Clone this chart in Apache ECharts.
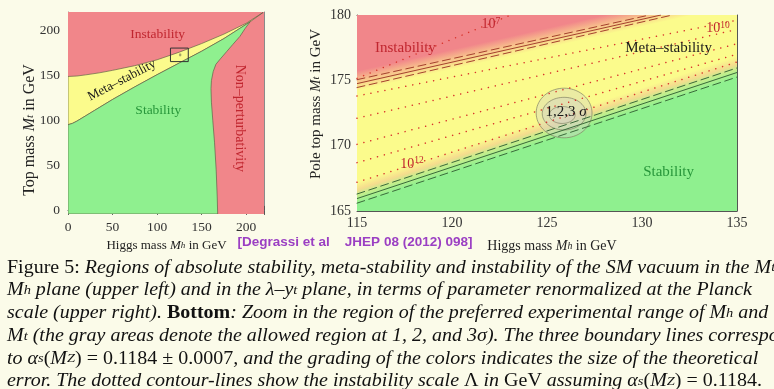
<!DOCTYPE html>
<html>
<head>
<meta charset="utf-8">
<script src="https://cdn.jsdelivr.net/npm/echarts@6/dist/echarts.min.js"></script>
<style>
  html, body { margin: 0; padding: 0; background: #fbfbe9; }
  #chart { width: 774px; height: 389px; }
</style>
</head>
<body>
<div id="chart"></div>
<script>
// ---------------- Left panel: full Mh–Mt plane (GeV) ----------------
const fullMhRange = [0, 220];
const fullMtRange = [-4, 220];
const fullTicks = [0, 50, 100, 150, 200];
const fullMinorTicks = [10, 20, 30, 40, 60, 70, 80, 90, 110, 120, 130, 140, 160, 170, 180, 190, 210];

// upper edge of the meta-stable wedge (instability boundary)
const metaUpper = [[0, 148.5], [10, 149], [20, 150.3], [35, 152.5], [50, 155.3], [75, 160.5],
  [100, 167], [125, 175.5], [150, 185], [175, 195.5], [200, 207.5], [219, 219.5]];
// lower edge of the meta-stable wedge (stability boundary)
const metaLower = [[0, 95], [5, 96.5], [10, 99], [20, 105], [30, 111], [50, 123], [75, 137],
  [100, 150.5], [125, 163.5], [150, 176.5], [175, 190.5], [204.5, 209.2], [219, 219.5]];
// perturbativity limit, from the tip of the stable region down to the axis
const nonPertEdge = [[204.5, 209.2], [199, 202], [193, 193], [185, 184], [178, 176], [171, 168],
  [166, 162], [163, 154], [161, 144], [160.5, 135], [161, 120], [162.5, 100], [164.5, 75],
  [166.3, 45], [167.5, 15], [168, -4]];

const fullLabelText = ['Instability', 'Meta–stability', 'Stability', 'Non–perturbativity'];
const fullLabelAt = [[100.6, 195], [60.5, 144.2], [101.3, 111], [193.2, 102]];

// ---------------- Right panel: zoom on the experimental region ----------------
const zoomMhRange = [115, 135];
const zoomMtRange = [165, 180];

// three boundary lines each: alpha_s upper / central / lower
const instabilityLines = [
  [[115, 175.05], [130.4, 180]],
  [[115, 174.75], [131.0, 180]],
  [[115, 174.45], [131.6, 180]]
];
const stabilityLines = [
  [[115, 166.3], [135, 175.95]],
  [[115, 165.95], [135, 175.6]],
  [[115, 165.6], [135, 175.25]]
];
// edges of the colour grading (theory error bands)
const instabilityBandEdge = [[115, 174.2], [132.7, 180]];
const instabilityBandWidth = 1.9;
const stabilityBandEdge = [[115, 167.2], [135, 176.85]];
const stabilityBandWidth = 1.65;

// dotted contours of the instability scale Lambda
const lambdaContours = [
  [[115, 175.15], [123.1, 180]],
  [[115, 173.8], [135, 179.6]],
  [[115, 172.1], [135, 178.9]],
  [[115, 170.1], [135, 177.8]],
  [[115, 168.7], [135, 177.0]],
  [[115, 167.2], [135, 176.4]]
];
const lambdaLabelExp = ['7', '10', '12'];
const lambdaLabelAt = [[122.05, 179.25], [134.0, 179.0], [117.9, 168.6]];

// 1, 2, 3 sigma regions in (Mh, Mt): centre and half-widths
const sigmaCentre = [[125.9, 172.5], [125.9, 172.45], [125.8, 172.35]];
const sigmaHalfWidth = [[1.47, 1.9], [1.15, 1.25], [0.68, 0.65]];

const zoomLabelText = ['Instability', 'Meta–stability', 'Stability', '1,2,3 σ'];
const zoomLabelAt = [[117.55, 177.44], [131.4, 177.45], [131.4, 167.95], [126.0, 172.56]];

// ---------------- Caption ----------------
const captionLines = [
  [['r', 'Figure 5: '], ['i', 'Regions of absolute stability, meta-stability and instability of the SM vacuum in the '], ['i', 'M'], ['s', 't'], ['r', '–']],
  [['i', 'M'], ['s', 'h'], ['i', ' plane (upper left) and in the λ'], ['r', '–'], ['i', 'y'], ['s', 't'], ['i', ' plane, in terms of parameter renormalized at the Planck']],
  [['i', 'scale (upper right). '], ['b', 'Bottom'], ['i', ': Zoom in the region of the preferred experimental range of '], ['i', 'M'], ['s', 'h'], ['i', ' and']],
  [['i', 'M'], ['s', 't'], ['i', ' (the gray areas denote the allowed region at 1, 2, and 3σ). The three boundary lines correspond']],
  [['i', 'to α'], ['s', 's'], ['r', '('], ['i', 'M'], ['s', 'Z'], ['r', ') = 0.1184 ± 0.0007'], ['i', ', and the grading of the colors indicates the size of the theoretical']],
  [['i', 'error. The dotted contour-lines show the instability scale '], ['r', 'Λ'], ['i', ' in '], ['r', 'GeV'], ['i', ' assuming α'], ['s', 's'], ['r', '('], ['i', 'M'], ['s', 'Z'], ['r', ') = 0.1184.']]
];
const citation = '[Degrassi et al    JHEP 08 (2012) 098]';

// ---------------- Styling ----------------
const serif = '"Liberation Serif", "Times New Roman", serif';
const sans = '"Liberation Sans", Arial, sans-serif';
const col = {
  page: '#fbfbe9',
  red: '#f1868a',
  yellow: '#fbfb8c',
  green: '#8ff08f',
  peach: '#f8c48c',
  edge: 'rgba(95,95,70,0.85)',
  frameL: '#8a8a8a',
  frameR: '#555555',
  tick: '#555555',
  tickLabel: '#333333',
  redText: '#c0262f',
  greenText: '#27963a',
  dark: '#1a1a1a',
  instLine: '#a4402e',
  stabLine: '#3a6a3a',
  lambda: '#d8342c',
  sigmaFill: 'rgba(212,212,196,0.42)',
  sigmaEdge: 'rgba(130,130,100,0.7)',
  cite: '#9b3fc3'
};

const chart = echarts.init(document.getElementById('chart'), null, { renderer: 'canvas', width: 774, height: 389 });

// ---- helpers ----
function polySeries(xi, yi, polys, base) {
  return {
    type: 'custom', xAxisIndex: xi, yAxisIndex: yi, silent: true, clip: true,
    data: polys.map(() => base.slice()),
    renderItem(params, api) {
      const p = polys[params.dataIndex];
      return {
        type: 'polygon',
        shape: { points: p.pts.map(q => api.coord(q)) },
        style: {
          fill: typeof p.fill === 'function' ? p.fill(api) : (p.fill || null),
          stroke: p.stroke || null,
          lineWidth: p.lw || 0
        }
      };
    }
  };
}

// gradient across a straight band edge; dir > 0 grades upward, dir < 0 downward
function bandGradient(api, edge, widthMt, dir, stops) {
  const p0 = api.coord(edge[0]), p1 = api.coord(edge[1]);
  const dx = p1[0] - p0[0], dy = p1[1] - p0[1], len = Math.hypot(dx, dy);
  let nx = dy / len, ny = -dx / len;
  if ((ny < 0) !== (dir > 0)) { nx = -nx; ny = -ny; }
  const vpx = Math.abs(api.coord([edge[0][0], edge[0][1] + widthMt])[1] - p0[1]);
  const d = vpx * Math.abs(dx) / len;
  return new echarts.graphic.LinearGradient(p0[0], p0[1], p0[0] + nx * d, p0[1] + ny * d, stops, true);
}

function ellipsePts(c, r) {
  const pts = [];
  for (let k = 0; k < 72; k++) {
    const t = k / 72 * Math.PI * 2;
    pts.push([c[0] + r[0] * Math.cos(t), c[1] + r[1] * Math.sin(t)]);
  }
  return pts;
}

function lineSeries(xi, yi, pts, color, width, type) {
  return {
    type: 'line', xAxisIndex: xi, yAxisIndex: yi, data: pts, showSymbol: false, silent: true,
    animation: false, z: 3,
    lineStyle: { color, width, type, cap: type === 'solid' ? 'butt' : 'round' }
  };
}

function textSeries(xi, yi, texts, anchors, styles, base) {
  return {
    type: 'custom', xAxisIndex: xi, yAxisIndex: yi, silent: true, z: 5,
    data: texts.map(() => base.slice()),
    renderItem(params, api) {
      const i = params.dataIndex;
      const s = styles[i];
      const pt = api.coord(anchors[i]);
      return {
        type: 'text', x: pt[0], y: pt[1], rotation: (s.rot || 0) * Math.PI / 180,
        style: {
          text: s.rich ? s.richText(texts[i]) : texts[i],
          rich: s.rich || undefined,
          fill: s.color, font: s.font, align: 'center', verticalAlign: 'middle'
        }
      };
    }
  };
}

function frameAxes(gridIndex, xRange, yRange, step, opts) {
  const tickLine = { lineStyle: { color: col.tick, width: 1 } };
  const axisLine = { show: true, lineStyle: { color: opts.frame, width: 1 } };
  const labelStyle = { fontFamily: serif, fontSize: opts.fontSize, color: col.tickLabel };
  const x = [
    { gridIndex, type: 'value', position: 'bottom', min: xRange[0], max: xRange[1], interval: step,
      axisLine, splitLine: { show: false },
      axisTick: Object.assign({ inside: true, length: 4.5 }, tickLine),
      minorTick: Object.assign({ show: true, splitNumber: 5, length: 2.5 }, tickLine),
      axisLabel: Object.assign({ margin: opts.xMargin }, labelStyle) },
    { gridIndex, type: 'value', position: 'top', min: xRange[0], max: xRange[1], interval: step,
      axisLine, splitLine: { show: false },
      axisTick: Object.assign({ inside: true, length: 4.5 }, tickLine),
      minorTick: Object.assign({ show: true, splitNumber: 5, length: 2.5 }, tickLine),
      axisLabel: { show: false } }
  ];
  let y;
  if (opts.yMajor) {
    // range does not start on a tick: ticks are listed explicitly
    y = ['left', 'right'].flatMap(pos => [
      { gridIndex, type: 'value', position: pos, min: yRange[0], max: yRange[1],
        axisLine, splitLine: { show: false },
        axisTick: Object.assign({ inside: true, length: 4.5, customValues: opts.yMajor }, tickLine),
        axisLabel: pos === 'left'
          ? Object.assign({ margin: opts.yMargin, customValues: opts.yMajor }, labelStyle)
          : { show: false } },
      { gridIndex, type: 'value', position: pos, min: yRange[0], max: yRange[1],
        axisLine: { show: false }, splitLine: { show: false },
        axisTick: Object.assign({ inside: true, length: 2.5, customValues: opts.yMinor }, tickLine),
        axisLabel: { show: false } }
    ]);
  } else {
    y = ['left', 'right'].map(pos => (
      { gridIndex, type: 'value', position: pos, min: yRange[0], max: yRange[1], interval: step,
        axisLine, splitLine: { show: false },
        axisTick: Object.assign({ inside: true, length: 4.5 }, tickLine),
        minorTick: Object.assign({ show: true, splitNumber: 5, length: 2.5 }, tickLine),
        axisLabel: pos === 'left' ? Object.assign({ margin: opts.yMargin }, labelStyle) : { show: false } }
    ));
  }
  return { x, y };
}

const leftAxes = frameAxes(0, fullMhRange, fullMtRange, 50,
  { frame: col.frameL, fontSize: 13.5, xMargin: 6, yMargin: 8, yMajor: fullTicks, yMinor: fullMinorTicks });
const rightAxes = frameAxes(1, zoomMhRange, zoomMtRange, 5,
  { frame: col.frameR, fontSize: 14, xMargin: 5, yMargin: 6 });
// axis indices: x 0,1 left / 2,3 right ; y 0..3 left / 4,5 right
const xAxes = leftAxes.x.concat(rightAxes.x);
const yAxes = leftAxes.y.concat(rightAxes.y);
const LX = 0, LY = 0, RX = 2, RY = 4;

const leftBase = [fullMhRange[0], fullMtRange[0]];
const rightBase = [zoomMhRange[0], zoomMtRange[0]];

// ---- left panel regions ----
const fullCorners = [[fullMhRange[0], fullMtRange[0]], [fullMhRange[1], fullMtRange[0]],
  [fullMhRange[1], fullMtRange[1]], [fullMhRange[0], fullMtRange[1]]];
const metaWedge = metaUpper.concat(metaLower.slice().reverse());
const tipIdx = metaLower.findIndex(p => p[0] === nonPertEdge[0][0] && p[1] === nonPertEdge[0][1]);
const stableRegion = metaLower.slice(0, tipIdx + 1).concat(nonPertEdge.slice(1), [[fullMhRange[0], fullMtRange[0]]]);
const zoomBox = [[zoomMhRange[0], zoomMtRange[0]], [zoomMhRange[1], zoomMtRange[0]],
  [zoomMhRange[1], zoomMtRange[1]], [zoomMhRange[0], zoomMtRange[1]]];

const leftPolys = [
  { pts: fullCorners, fill: col.red },
  { pts: metaWedge, fill: col.yellow, stroke: col.edge, lw: 0.8 },
  { pts: stableRegion, fill: col.green, stroke: col.edge, lw: 0.8 }
].concat(sigmaCentre.map((c, i) => ({ pts: ellipsePts(c, sigmaHalfWidth[i]), fill: 'rgba(110,110,80,0.35)' })))
 .concat([{ pts: zoomBox, fill: null, stroke: '#333', lw: 1 }]);

// ---- right panel regions ----
const zoomCorners = [[zoomMhRange[0], zoomMtRange[0]], [zoomMhRange[1], zoomMtRange[0]],
  [zoomMhRange[1], zoomMtRange[1]], [zoomMhRange[0], zoomMtRange[1]]];
const unstableRegion = [instabilityBandEdge[0], instabilityBandEdge[1], [zoomMhRange[0], zoomMtRange[1]]];
const stableZoomRegion = [stabilityBandEdge[0], stabilityBandEdge[1],
  [zoomMhRange[1], zoomMtRange[0]], [zoomMhRange[0], zoomMtRange[0]]];

const rightPolys = [
  { pts: zoomCorners, fill: col.yellow },
  { pts: unstableRegion, fill: api => bandGradient(api, instabilityBandEdge, instabilityBandWidth, 1,
      [{ offset: 0, color: col.yellow }, { offset: 0.4, color: col.peach }, { offset: 0.8, color: col.red }, { offset: 1, color: col.red }]) },
  { pts: stableZoomRegion, fill: api => bandGradient(api, stabilityBandEdge, stabilityBandWidth, -1,
      [{ offset: 0, color: col.yellow }, { offset: 0.35, color: '#f5dc8e' },
       { offset: 0.62, color: '#c2ee8c' }, { offset: 1, color: col.green }]) }
];
const sigmaPolys = sigmaCentre.map((c, i) => ({ pts: ellipsePts(c, sigmaHalfWidth[i]),
  fill: col.sigmaFill, stroke: col.sigmaEdge, lw: 1 }));

// ---- text styles ----
const richSup = {
  n: { fontFamily: serif, fontSize: 14, lineHeight: 16, fill: col.redText },
  p: { fontFamily: serif, fontSize: 9.5, lineHeight: 9.5, verticalAlign: 'top', fill: col.redText }
};
const richSigma = {
  n: { fontFamily: serif, fontSize: 15, fill: col.dark },
  g: { fontFamily: serif, fontSize: 15, fontStyle: 'italic', fill: col.dark }
};
const fullLabelStyle = [
  { color: col.redText, font: '13.5px ' + serif },
  { color: col.dark, font: '13px ' + serif, rot: 27.5 },
  { color: col.greenText, font: '13.5px ' + serif },
  { color: col.redText, font: '14px ' + serif, rot: -90 }
];
const zoomLabelStyle = [
  { color: col.redText, font: '15px ' + serif },
  { color: col.dark, font: '15px ' + serif },
  { color: col.greenText, font: '15px ' + serif },
  { color: col.dark, font: '15px ' + serif, rich: richSigma,
    richText: t => { const k = t.lastIndexOf(' '); return '{n|' + t.slice(0, k + 1) + '}{g|' + t.slice(k + 1) + '}'; } }
];
const lambdaLabelStyle = lambdaLabelExp.map(() => ({ color: col.redText, font: '14px ' + serif, rich: richSup,
  richText: e => '{n|10}{p|' + e + '}' }));

// ---- series ----
const series = [
  polySeries(LX, LY, leftPolys, leftBase),
  textSeries(LX, LY, fullLabelText, fullLabelAt, fullLabelStyle, leftBase),
  polySeries(RX, RY, rightPolys, rightBase)
];
instabilityLines.forEach((l, i) => series.push(lineSeries(RX, RY, l, col.instLine, 1, i === 1 ? 'solid' : [8, 4.5])));
stabilityLines.forEach((l, i) => series.push(lineSeries(RX, RY, l, col.stabLine, 1, i === 1 ? 'solid' : [8, 4.5])));
lambdaContours.forEach(l => series.push(lineSeries(RX, RY, l, col.lambda, 1.5, [0.1, 7])));
series.push(polySeries(RX, RY, sigmaPolys, rightBase));
series.push(textSeries(RX, RY, lambdaLabelExp, lambdaLabelAt, lambdaLabelStyle, rightBase));
series.push(textSeries(RX, RY, zoomLabelText, zoomLabelAt, zoomLabelStyle, rightBase));

// ---- caption and axis titles ----
const capRich = {
  r: { fontFamily: serif, fontSize: 18, lineHeight: 24, fill: '#111' },
  i: { fontFamily: serif, fontSize: 18, lineHeight: 24, fontStyle: 'italic', fill: '#111' },
  b: { fontFamily: serif, fontSize: 18, lineHeight: 24, fontWeight: 'bold', fill: '#111' },
  s: { fontFamily: serif, fontSize: 13, lineHeight: 13, fontStyle: 'italic', fill: '#111' }
};
function richOf(segs) { return segs.map(s => '{' + s[0] + '|' + s[1] + '}').join(''); }
function fontOf(st) {
  return (st.fontStyle || 'normal') + ' ' + (st.fontWeight || 'normal') + ' ' + st.fontSize + 'px ' + st.fontFamily;
}
const measureCtx = document.createElement('canvas').getContext('2d');
function widthOf(segs, rich) {
  return segs.reduce((w, s) => { measureCtx.font = fontOf(rich[s[0]]); return w + measureCtx.measureText(s[1]).width; }, 0);
}
// the last caption line runs from x = 7 to x = 762
const capScale = 755 / widthOf(captionLines[5], capRich);
const captionEls = captionLines.map((segs, k) => ({
  type: 'text', x: 7, y: 268 + k * 22.7, scaleX: capScale, silent: true,
  style: { text: richOf(segs), rich: capRich, verticalAlign: 'middle', align: 'left' }
}));

function titleRich(size) {
  return {
    r: { fontFamily: serif, fontSize: size, lineHeight: size + 2, fill: '#222' },
    i: { fontFamily: serif, fontSize: size, lineHeight: size + 2, fontStyle: 'italic', fill: '#222' },
    s: { fontFamily: serif, fontSize: size * 0.7, lineHeight: size * 0.7, fontStyle: 'italic', fill: '#222' }
  };
}
const axisTitles = [
  { segs: [['r', 'Top mass '], ['i', 'M'], ['s', 't'], ['r', ' in GeV']], x: 30, y: 130, size: 16, rot: 90 },
  { segs: [['r', 'Pole top mass '], ['i', 'M'], ['s', 't'], ['r', ' in GeV']], x: 316, y: 104, size: 15, rot: 90 },
  { segs: [['r', 'Higgs mass '], ['i', 'M'], ['s', 'h'], ['r', ' in GeV']], x: 166.5, y: 246, size: 13, rot: 0 },
  { segs: [['r', 'Higgs mass '], ['i', 'M'], ['s', 'h'], ['r', ' in GeV']], x: 552, y: 246, size: 14, rot: 0 }
];
const titleEls = axisTitles.map(t => ({
  type: 'text', x: t.x, y: t.y, rotation: t.rot * Math.PI / 180, silent: true,
  style: { text: richOf(t.segs), rich: titleRich(t.size), align: 'center', verticalAlign: 'middle' }
}));
const citeEl = {
  type: 'text', x: 355, y: 242, silent: true,
  style: { text: citation, fill: col.cite, font: 'bold 13.5px ' + sans, align: 'center', verticalAlign: 'middle' }
};

chart.setOption({
  backgroundColor: col.page,
  animation: false,
  grid: [
    { left: 68, top: 12, width: 196, height: 202 },
    { left: 357, top: 15, width: 380, height: 196 }
  ],
  xAxis: xAxes,
  yAxis: yAxes,
  series,
  graphic: { elements: captionEls.concat(titleEls, [citeEl]) }
});
</script>
</body>
</html>
